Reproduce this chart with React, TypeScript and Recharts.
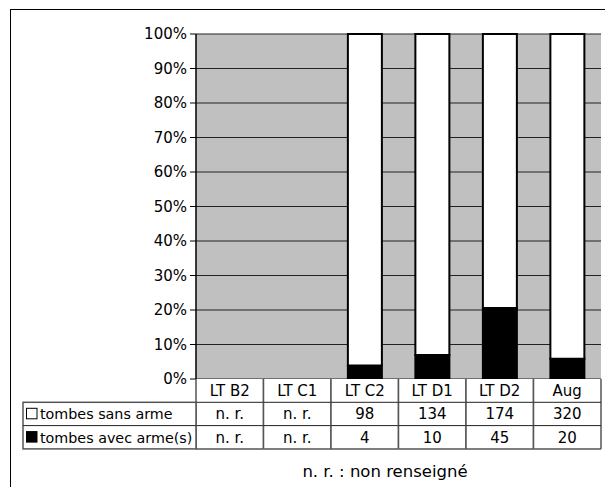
import React from 'react';
import { BarChart, Bar, XAxis, YAxis, CartesianGrid } from 'recharts';

const categories = ['LT B2', 'LT C1', 'LT C2', 'LT D1', 'LT D2', 'Aug'];
const sansArme: (number | null)[] = [null, null, 98, 134, 174, 320];
const avecArme: (number | null)[] = [null, null, 4, 10, 45, 20];
const yTicks = [0, 0.1, 0.2, 0.3, 0.4, 0.5, 0.6, 0.7, 0.8, 0.9, 1];
const seriesLabels = ['tombes sans arme', 'tombes avec arme(s)'];
const notRecorded = 'n. r.';
const footnote = 'n. r. : non renseigné';

const data = categories.map((c, i) => ({
  cat: c,
  avec: avecArme[i] ?? 0,
  sans: sansArme[i] ?? 0,
}));

const W = 605;
const H = 487;
const PLOT_LEFT = 196;
const PLOT_RIGHT = 601;
const PLOT_W = PLOT_RIGHT - PLOT_LEFT;
const COL_W = PLOT_W / categories.length;
const ROW_H = 23.3;
const LEGEND_X = 23;
const FONT = "'DejaVu Sans', Verdana, sans-serif";
const FS = 15;
const LINE = '#555';

const fmt = (v: number | null) => (v == null ? notRecorded : String(v));

function TableTick(props: any) {
  const { x, y, payload } = props;
  const i = categories.indexOf(payload.value);
  const left = x - COL_W / 2;
  const rows = [payload.value, fmt(sansArme[i]), fmt(avecArme[i])];
  return (
    <g fontFamily={FONT} fontSize={FS} fill="#000">
      <rect x={left} y={y} width={COL_W} height={ROW_H * 3} fill="#fff" stroke="none" />
      {rows.map((t, r) => (
        <text
          key={r}
          x={x}
          y={y + ROW_H * r + ROW_H / 2 + 0.5}
          textAnchor="middle"
          dominantBaseline="central"
          fill="#000"
        >
          {t}
        </text>
      ))}
      <line x1={left} x2={left} y1={y} y2={y + ROW_H * 3} stroke={LINE} strokeWidth={1.5} />
      <line x1={left + COL_W} x2={left + COL_W} y1={y} y2={y + ROW_H * 3} stroke={LINE} strokeWidth={1.5} />
      <line x1={left} x2={left + COL_W} y1={y + ROW_H} y2={y + ROW_H} stroke="#222" strokeWidth={1} />
      <line x1={left} x2={left + COL_W} y1={y + ROW_H * 2} y2={y + ROW_H * 2} stroke="#222" strokeWidth={1} />
      <line x1={left} x2={left + COL_W} y1={y + ROW_H * 3} y2={y + ROW_H * 3} stroke={LINE} strokeWidth={1.5} />
      {i === 0 && (
        <g>
          <rect x={LEGEND_X} y={y + ROW_H} width={left - LEGEND_X} height={ROW_H * 2} fill="#fff" stroke={LINE} strokeWidth={1.5} />
          <line x1={LEGEND_X} x2={left} y1={y + ROW_H * 2} y2={y + ROW_H * 2} stroke="#222" strokeWidth={1} />
          <rect x={LEGEND_X + 3.5} y={y + ROW_H + 6} width={10.5} height={10.5} fill="#fff" stroke="#000" strokeWidth={1} />
          <rect x={LEGEND_X + 3.5} y={y + ROW_H * 2 + 6} width={10.5} height={10.5} fill="#000" stroke="#000" strokeWidth={1} />
          <text x={LEGEND_X + 17} y={y + ROW_H * 1.5 + 0.5} dominantBaseline="central" fill="#000" fontSize={14.3}>
            {seriesLabels[0]}
          </text>
          <text x={LEGEND_X + 17} y={y + ROW_H * 2.5 + 0.5} dominantBaseline="central" fill="#000" fontSize={14.3}>
            {seriesLabels[1]}
          </text>
        </g>
      )}
    </g>
  );
}

export default function App() {
  return (
    <div style={{ position: 'absolute', left: 0, top: 0, width: W, height: H, overflow: 'hidden', background: '#fff' }}>
      <div
        style={{
          position: 'absolute',
          left: 10,
          top: 9,
          width: W,
          height: H,
          borderLeft: '1.5px solid #000',
          borderTop: '1.5px solid #000',
        }}
      />
      <div style={{ position: 'absolute', left: 0, top: 0 }}>
        <BarChart
          width={W}
          height={H}
          data={data}
          stackOffset="expand"
          barCategoryGap="25%"
          margin={{ top: 34, right: W - PLOT_RIGHT, left: 0, bottom: 38 }}
        >
          <CartesianGrid vertical={false} stroke="#222" strokeOpacity={1} fill="#c0c0c0" fillOpacity={1} />
          <XAxis
            dataKey="cat"
            height={70}
            tickLine={false}
            axisLine={false}
            tickSize={0}
            tickMargin={0}
            interval={0}
            tick={<TableTick />}
          />
          <YAxis
            width={PLOT_LEFT}
            domain={[0, 1]}
            ticks={yTicks}
            tickFormatter={(v: number) => `${Math.round(v * 100)}%`}
            tick={{ fill: '#000', fontSize: FS, fontFamily: FONT }}
            tickLine={{ stroke: '#000' }}
            axisLine={{ stroke: '#000', strokeWidth: 1.5 }}
            tickSize={6}
            tickMargin={3}
            interval={0}
          />
          <YAxis
            yAxisId="right"
            orientation="right"
            width={0}
            domain={[0, 1]}
            tick={false}
            tickLine={false}
            axisLine={{ stroke: '#808080', strokeWidth: 2 }}
          />
          <Bar dataKey="avec" stackId="a" fill="#000" stroke="#000" strokeWidth={2} isAnimationActive={false} />
          <Bar dataKey="sans" stackId="a" fill="#fff" stroke="#000" strokeWidth={2} isAnimationActive={false} />
        </BarChart>
      </div>
      <div
        style={{
          position: 'absolute',
          left: 235,
          top: 462,
          width: 300,
          textAlign: 'center',
          fontFamily: FONT,
          fontSize: 16.5,
          lineHeight: '20px',
          color: '#000',
        }}
      >
        {footnote}
      </div>
    </div>
  );
}
